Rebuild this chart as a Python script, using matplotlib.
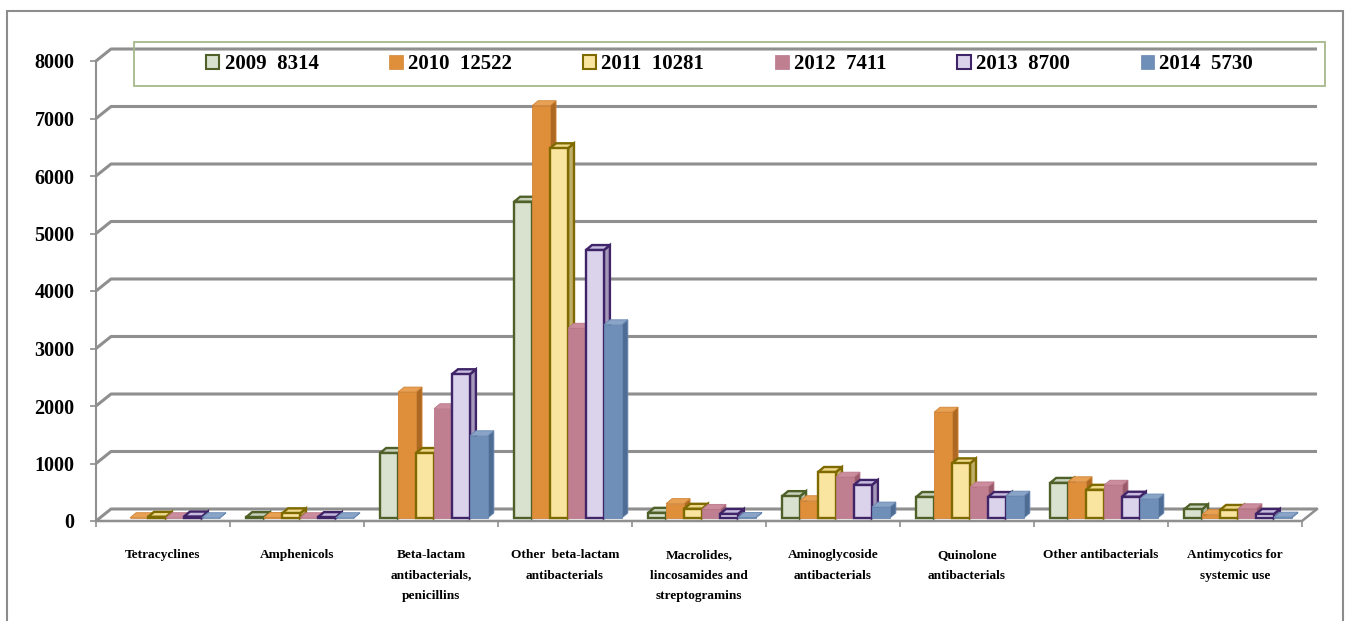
import matplotlib
matplotlib.use("Agg")
import matplotlib.pyplot as plt
from matplotlib.patches import Polygon, Rectangle, Patch
from matplotlib.lines import Line2D
from matplotlib.transforms import IdentityTransform, ScaledTranslation

# ---------------- data ----------------
categories = ["Tetracyclines", "Amphenicols",
              "Beta-lactam\nantibacterials,\npenicillins",
              "Other  beta-lactam\nantibacterials",
              "Macrolides,\nlincosamides and\nstreptogramins",
              "Aminoglycoside\nantibacterials",
              "Quinolone\nantibacterials",
              "Other antibacterials",
              "Antimycotics for\nsystemic use"]
series_labels = ["2009  8314", "2010  12522", "2011  10281",
                 "2012  7411", "2013  8700", "2014  5730"]
v2009 = [0, 15, 1130, 5500, 90, 380, 365, 610, 150]
v2010 = [5, 10, 2190, 7170, 250, 300, 1840, 630, 60]
v2011 = [20, 80, 1130, 6430, 160, 800, 950, 490, 140]
v2012 = [5, 5, 1900, 3300, 150, 710, 540, 570, 160]
v2013 = [25, 15, 2500, 4660, 70, 575, 365, 370, 70]
v2014 = [5, 5, 1430, 3360, 10, 190, 380, 330, 15]
yticks = [0, 1000, 2000, 3000, 4000, 5000, 6000, 7000, 8000]

values = [v2009, v2010, v2011, v2012, v2013, v2014]
# face, edge, side, top, edge width
styles = [
    ("#d9e1cf", "#4f6128", "#b2bba6", "#c8d1bc", 1.7),
    ("#df8f3a", "#d08436", "#ad6822", "#e8a053", 0.6),
    ("#fae5a0", "#7f6a00", "#bfae6a", "#eed88a", 1.7),
    ("#c07e91", "#b87688", "#9a5a6c", "#cb8d9e", 0.6),
    ("#dbd2ec", "#3f2568", "#a597b9", "#c7bbe0", 1.7),
    ("#6f8fb8", "#6787b0", "#4e6c94", "#89a4c7", 0.6),
]

W, H = 1349, 621
serif = "Liberation Serif"
fig = plt.figure(figsize=(W / 100, H / 100), dpi=100)
ax = fig.add_axes([96 / W, 100 / H, 1206 / W, 460 / H])
ax.set_xlim(-0.5, 8.5)
ax.set_ylim(0, 8000)
for s in ax.spines.values():
    s.set_visible(False)
ax.patch.set_visible(False)

GRID = "#8f8f8f"
DX, DY = 15, 12      # back-wall depth (px)
BX, BY = 3, 3        # bar front offset (px)
SX, SY = 6, 5        # bar depth (px)


def P(x, y, ox=0, oy=0):
    X, Y = ax.transData.transform((x, y))
    return (X + ox, Y + oy)


def line(pts, **kw):
    ax.add_line(Line2D([p[0] for p in pts], [p[1] for p in pts],
                       transform=IdentityTransform(), clip_on=False, **kw))


# back wall gridlines with left diagonals
for v in yticks:
    line([P(-0.5, v), P(-0.5, v, DX, DY), P(8.5, v, DX, DY)],
         color=GRID, lw=2.2, zorder=0.5, solid_capstyle="butt")
# front axis and floor
line([P(-0.5, 0), P(-0.5, 8000)], color=GRID, lw=1.5, zorder=0.6)
line([P(-0.5, 0), P(8.5, 0), P(8.5, 0, DX, DY)], color=GRID, lw=1.8, zorder=0.6)

# ticks
ax.set_yticks(yticks)
ax.set_yticklabels([str(t) for t in yticks], fontfamily=serif,
                   fontweight="bold", fontsize=14.5)
ax.tick_params(axis="y", length=4.5, width=1.2, color=GRID, pad=11)
ax.set_xticks(range(len(categories)))
ax.set_xticklabels(categories, fontfamily=serif, fontweight="bold",
                   fontsize=9.6, linespacing=1.97)
ax.set_xticks([i - 0.5 for i in range(len(categories) + 1)], minor=True)
ax.tick_params(axis="x", which="major", length=0, pad=20)
ax.tick_params(axis="x", which="minor", length=4, width=1.2, color=GRID)

# bars
w = 0.134
bar_off = ax.transData + ScaledTranslation(BX / 100, BY / 100, fig.dpi_scale_trans)
handles = []
for j, (vals, (face, edge, side, top, lw)) in enumerate(zip(values, styles)):
    xs = [i + (j - 2.5) * w for i in range(len(categories))]
    ax.bar(xs, vals, w, color=face, edgecolor=edge,
           linewidth=[lw if v > 0 else 0 for v in vals],
           transform=bar_off, zorder=3 + 2 * j, clip_on=False)
    for x, v in zip(xs, vals):
        if v <= 0:
            continue
        x0, x1 = x - w / 2, x + w / 2
        sp = [P(x1, 0, BX, BY), P(x1, v, BX, BY),
              P(x1, v, BX + SX, BY + SY), P(x1, 0, BX + SX, BY + SY)]
        tp = [P(x0, v, BX, BY), P(x1, v, BX, BY),
              P(x1, v, BX + SX, BY + SY), P(x0, v, BX + SX, BY + SY)]
        for pts, col in ((sp, side), (tp, top)):
            ax.add_patch(Polygon(pts, closed=True, facecolor=col, edgecolor=edge,
                                 linewidth=lw, transform=IdentityTransform(),
                                 clip_on=False, zorder=2 + 2 * j))
    handles.append(Patch(facecolor=face, edgecolor=edge, linewidth=1.5 if lw > 1 else 0.5))

# legend
bx0, bx1, by0, by1 = 134, 1325, 42, 86
fig.add_artist(Rectangle((bx0 / W, (H - by1) / H), (bx1 - bx0) / W, (by1 - by0) / H,
                         transform=fig.transFigure, fill=False,
                         edgecolor="#a6b98c", linewidth=1.3))
fig.legend(handles, series_labels, loc="center",
           bbox_to_anchor=((bx0 + bx1) / 2 / W, (H - (by0 + by1) / 2) / H),
           ncol=6, frameon=False,
           prop=dict(family=serif, weight="bold", size=15),
           handlelength=0.65, handleheight=0.65, handletextpad=0.25,
           columnspacing=3.4)

# outer border
fig.add_artist(Rectangle((7 / W, -5 / H), (1343 - 7) / W, (H - 11 + 5) / H,
                         transform=fig.transFigure, fill=False,
                         edgecolor="#8c8c8c", linewidth=1.5))

fig.savefig("out.png", dpi=100)
